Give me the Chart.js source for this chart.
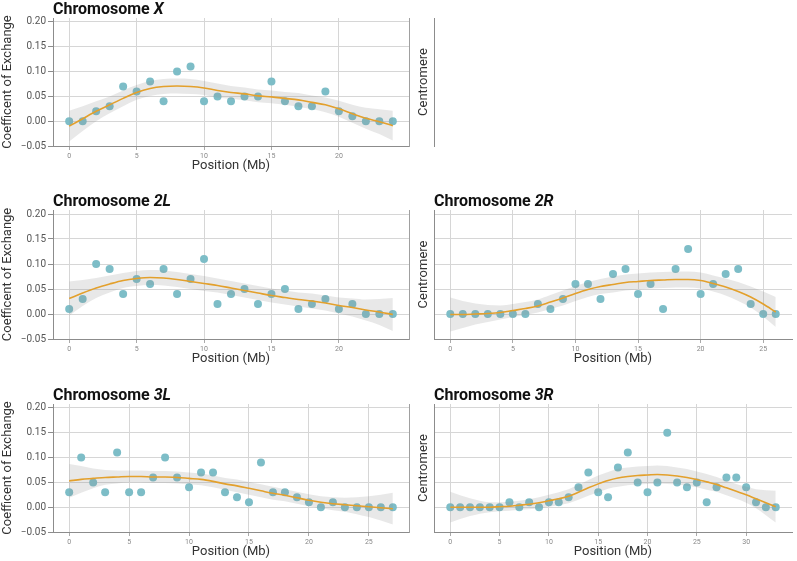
<!DOCTYPE html>
<html>
<head>
<meta charset="utf-8">
<script src="https://cdn.jsdelivr.net/npm/chart.js@4/dist/chart.umd.min.js"></script>
<style>
  body { margin: 0; background: #fff; }
  #wrap { position: relative; width: 797px; height: 561px; overflow: hidden; }
  #wrap canvas { position: absolute; }
</style>
</head>
<body>
<div id="wrap"></div>
<script>
Chart.defaults.font.family = 'Roboto, sans-serif';
Chart.defaults.color = '#333';

// tick labels
const yTicks = [-0.05, 0, 0.05, 0.10, 0.15, 0.20];
const xTicksLeft = [0, 5, 10, 15, 20];
const xTicks3L = [0, 5, 10, 15, 20, 25];
const xTicks2R = [0, 5, 10, 15, 20, 25];
const xTicks3R = [0, 5, 10, 15, 20, 25, 30];

// Chromosome X
const posX = [0,1,2,3,4,5,6,7,8,9,10,11,12,13,14,15,16,17,18,19,20,21,22,23,24];
const valX = [0,0,0.02,0.03,0.07,0.06,0.08,0.04,0.10,0.11,0.04,0.05,0.04,0.05,0.05,0.08,0.04,0.03,0.03,0.06,0.02,0.01,0,0,0];
const fitX = [-0.010,0.005,0.020,0.033,0.046,0.058,0.066,0.070,0.071,0.070,0.067,0.062,0.058,0.055,0.051,0.049,0.046,0.043,0.038,0.033,0.025,0.015,0.006,-0.001,-0.009];
const loX = [-0.041,-0.020,0.000,0.016,0.030,0.043,0.051,0.055,0.056,0.055,0.053,0.048,0.045,0.042,0.038,0.036,0.033,0.029,0.024,0.018,0.009,-0.003,-0.015,-0.026,-0.039];
const hiX = [0.021,0.030,0.040,0.050,0.062,0.073,0.081,0.085,0.086,0.085,0.081,0.076,0.071,0.068,0.064,0.062,0.059,0.057,0.052,0.048,0.041,0.033,0.027,0.024,0.021];

// Chromosome 2L
const pos2L = [0,1,2,3,4,5,6,7,8,9,10,11,12,13,14,15,16,17,18,19,20,21,22,23,24];
const val2L = [0.01,0.03,0.10,0.09,0.04,0.07,0.06,0.09,0.04,0.07,0.11,0.02,0.04,0.05,0.02,0.04,0.05,0.01,0.02,0.03,0.01,0.02,0,0,0];
const fit2L = [0.031,0.042,0.052,0.060,0.067,0.071,0.073,0.072,0.069,0.065,0.061,0.057,0.052,0.047,0.042,0.037,0.033,0.029,0.026,0.022,0.017,0.013,0.008,0.004,-0.001];
const lo2L = [-0.003,0.016,0.032,0.043,0.052,0.056,0.058,0.057,0.054,0.050,0.046,0.043,0.038,0.033,0.028,0.023,0.019,0.015,0.011,0.007,0.001,-0.005,-0.013,-0.022,-0.034];
const hi2L = [0.065,0.068,0.072,0.077,0.082,0.086,0.088,0.087,0.084,0.080,0.076,0.071,0.066,0.061,0.056,0.051,0.047,0.043,0.041,0.037,0.033,0.031,0.029,0.030,0.032];

// Chromosome 2R
const pos2R = [0,1,2,3,4,5,6,7,8,9,10,11,12,13,14,15,16,17,18,19,20,21,22,23,24,25,26];
const val2R = [0,0,0,0,0,0,0,0.02,0.01,0.03,0.06,0.06,0.03,0.08,0.09,0.04,0.06,0.01,0.09,0.13,0.04,0.06,0.08,0.09,0.02,0,0];
const fit2R = [-0.001,-0.001,0.000,0.001,0.003,0.007,0.011,0.016,0.024,0.032,0.041,0.049,0.055,0.059,0.063,0.065,0.067,0.068,0.069,0.069,0.067,0.061,0.054,0.045,0.034,0.020,0.004];
const lo2R = [-0.035,-0.028,-0.021,-0.016,-0.011,-0.006,-0.002,0.003,0.010,0.017,0.026,0.034,0.040,0.043,0.047,0.049,0.051,0.052,0.053,0.053,0.051,0.045,0.037,0.026,0.013,-0.005,-0.026];
const hi2R = [0.033,0.026,0.021,0.018,0.017,0.020,0.024,0.029,0.038,0.047,0.056,0.064,0.070,0.075,0.079,0.081,0.083,0.084,0.085,0.085,0.083,0.077,0.071,0.064,0.055,0.045,0.034];

// Chromosome 3L
const pos3L = [0,1,2,3,4,5,6,7,8,9,10,11,12,13,14,15,16,17,18,19,20,21,22,23,24,25,26,27];
const val3L = [0.03,0.10,0.05,0.03,0.11,0.03,0.03,0.06,0.10,0.06,0.04,0.07,0.07,0.03,0.02,0.01,0.09,0.03,0.03,0.02,0.01,0,0.01,0,0,0,0,0];
const fit3L = [0.053,0.056,0.058,0.060,0.061,0.062,0.062,0.061,0.061,0.060,0.058,0.056,0.052,0.047,0.043,0.038,0.033,0.028,0.024,0.019,0.014,0.010,0.007,0.005,0.003,0.001,-0.001,-0.003];
const lo3L = [0.019,0.029,0.038,0.045,0.048,0.050,0.050,0.049,0.049,0.048,0.046,0.044,0.040,0.035,0.030,0.025,0.020,0.015,0.012,0.007,0.002,-0.002,-0.006,-0.009,-0.014,-0.020,-0.027,-0.035];
const hi3L = [0.087,0.083,0.078,0.075,0.074,0.074,0.074,0.073,0.073,0.072,0.070,0.068,0.064,0.059,0.056,0.051,0.046,0.041,0.036,0.031,0.026,0.022,0.020,0.019,0.020,0.022,0.025,0.029];

// Chromosome 3R
const pos3R = [0,1,2,3,4,5,6,7,8,9,10,11,12,13,14,15,16,17,18,19,20,21,22,23,24,25,26,27,28,29,30,31,32,33];
const val3R = [0,0,0,0,0,0,0.01,0,0.01,0,0.01,0.01,0.02,0.04,0.07,0.03,0.02,0.08,0.11,0.05,0.03,0.05,0.15,0.05,0.04,0.05,0.01,0.04,0.06,0.06,0.04,0.01,0,0];
const fit3R = [0.000,0.000,0.000,0.000,0.000,0.001,0.002,0.004,0.006,0.009,0.013,0.017,0.022,0.030,0.039,0.047,0.054,0.059,0.062,0.064,0.065,0.066,0.065,0.063,0.060,0.056,0.051,0.046,0.039,0.032,0.025,0.017,0.009,0.001];
const lo3R = [-0.031,-0.024,-0.018,-0.013,-0.010,-0.008,-0.007,-0.005,-0.004,-0.002,0.001,0.004,0.008,0.015,0.023,0.030,0.037,0.041,0.044,0.046,0.047,0.048,0.047,0.046,0.043,0.040,0.035,0.031,0.024,0.017,0.009,-0.002,-0.016,-0.031];
const hi3R = [0.031,0.024,0.018,0.013,0.010,0.010,0.011,0.013,0.016,0.020,0.025,0.030,0.036,0.045,0.055,0.064,0.071,0.077,0.080,0.082,0.083,0.084,0.083,0.080,0.077,0.072,0.067,0.061,0.054,0.047,0.041,0.036,0.034,0.033];

const gridColor = '#d6d6d6';
const axisColor = '#8c8c8c';
const pointColor = '#7dbdc7';
const fitColor = '#e3a02c';
const bandColor = 'rgba(140,140,140,0.2)';

// draws "Chromosome <name>" with the name in italics
const chromTitle = {
  id: 'chromTitle',
  afterDraw: (chart, args, opts) => {
    if (!opts.name) return;
    const ctx = chart.ctx;
    const x = chart.chartArea.left;
    const y = chart.chartArea.top - 4.5;
    ctx.save();
    ctx.fillStyle = '#111';
    ctx.textBaseline = 'alphabetic';
    ctx.font = 'bold 16px Roboto';
    ctx.fillText('Chromosome ', x, y);
    const w = ctx.measureText('Chromosome ').width;
    ctx.font = 'italic bold 16px Roboto';
    ctx.fillText(opts.name, x + w, y);
    ctx.restore();
  }
};

const fmtY = (v) => (v < 0 ? '\u2212' + Math.abs(v).toFixed(2) : v.toFixed(2));

const makePanel = (p) => {
  const canvas = document.createElement('canvas');
  canvas.width = p.w;
  canvas.height = p.h;
  canvas.style.left = p.left + 'px';
  canvas.style.top = p.top + 'px';
  canvas.style.width = p.w + 'px';
  canvas.style.height = p.h + 'px';
  document.getElementById('wrap').appendChild(canvas);

  const datasets = [];
  if (p.pos) {
    const xy = (arr) => p.pos.map((x, i) => ({ x: x, y: arr[i] }));
    datasets.push({
      data: xy(p.fit), borderColor: fitColor, borderWidth: 1.6,
      pointRadius: 0, fill: false, cubicInterpolationMode: 'monotone', order: 1
    });
    datasets.push({
      data: xy(p.lo), borderColor: 'transparent', borderWidth: 0,
      pointRadius: 0, fill: false, cubicInterpolationMode: 'monotone', order: 2
    });
    datasets.push({
      data: xy(p.hi), borderColor: 'transparent', borderWidth: 0, backgroundColor: bandColor,
      pointRadius: 0, fill: { target: 1 }, cubicInterpolationMode: 'monotone', order: 2
    });
    datasets.push({
      data: xy(p.val), showLine: false, pointRadius: 4, pointBorderWidth: 0,
      pointBackgroundColor: pointColor, order: 3
    });
  }

  const xMax = p.xMax || 10;
  const scales = {
    x: {
      type: 'linear',
      display: !p.stub,
      min: -0.05 * xMax,
      max: 1.05 * xMax,
      afterBuildTicks: (s) => { s.ticks = (p.xTicks || []).map((v) => ({ value: v })); },
      ticks: { font: { size: 7 }, color: '#888', padding: 2, autoSkip: false, maxRotation: 0,
        callback: (v) => String(v) },
      grid: { color: gridColor, tickLength: 4, tickColor: '#aaa' },
      border: { color: axisColor },
      title: { display: true, text: 'Position (Mb)', font: { size: 13 }, color: '#333', padding: 0 },
      afterFit: (s) => { s.height = 28; }
    },
    y: {
      type: 'linear',
      min: -0.05,
      max: 0.208,
      afterBuildTicks: (s) => { s.ticks = yTicks.map((v) => ({ value: v })); },
      border: { color: axisColor }
    }
  };

  if (p.side == 'left') {
    Object.assign(scales.y, {
      ticks: { font: { size: 10 }, color: '#555', padding: 2, callback: fmtY },
      grid: { color: gridColor, tickLength: 5, tickColor: axisColor },
      title: { display: true, text: 'Coefficent of Exchange', font: { size: 13 }, color: '#333', padding: 0 },
      afterFit: (s) => { s.width = 53; }
    });
    scales.yR = {
      type: 'linear', position: 'right', display: true, min: -0.05, max: 0.208,
      ticks: { display: false },
      grid: { drawOnChartArea: false, drawTicks: false },
      border: { color: '#a0a0a0' },
      afterFit: (s) => { s.width = 0; }
    };
  } else {
    Object.assign(scales.y, {
      ticks: { display: false },
      grid: { color: gridColor, drawTicks: false, drawOnChartArea: !p.stub },
      title: { display: true, text: 'Centromere', font: { size: 13 }, color: '#333', padding: { top: 3, bottom: 0 } },
      afterFit: (s) => { s.width = 21; }
    });
  }

  new Chart(canvas, {
    type: 'line',
    data: { datasets: datasets },
    options: {
      responsive: false,
      animation: false,
      devicePixelRatio: 1,
      layout: { padding: { top: p.padTop, right: p.padRight || 0, bottom: 0, left: 0 } },
      scales: scales,
      plugins: {
        legend: { display: false },
        tooltip: { enabled: false },
        chromTitle: { name: p.name }
      }
    },
    plugins: [chromTitle]
  });
};

const panels = [
  { name: 'X', pos: posX, val: valX, fit: fitX, lo: loX, hi: hiX, xMax: 24, xTicks: xTicksLeft,
    side: 'left', left: 0, top: 0, w: 413, h: 174, padTop: 18 },
  { stub: true, side: 'right', left: 413, top: 0, w: 40, h: 174, padTop: 18 },
  { name: '2L', pos: pos2L, val: val2L, fit: fit2L, lo: lo2L, hi: hi2L, xMax: 24, xTicks: xTicksLeft,
    side: 'left', left: 0, top: 180, w: 413, h: 187, padTop: 30 },
  { name: '2R', pos: pos2R, val: val2R, fit: fit2R, lo: lo2R, hi: hi2R, xMax: 26, xTicks: xTicks2R,
    side: 'right', left: 413, top: 180, w: 384, h: 187, padTop: 30, padRight: 5 },
  { name: '3L', pos: pos3L, val: val3L, fit: fit3L, lo: lo3L, hi: hi3L, xMax: 27, xTicks: xTicks3L,
    side: 'left', left: 0, top: 374, w: 413, h: 186, padTop: 30 },
  { name: '3R', pos: pos3R, val: val3R, fit: fit3R, lo: lo3R, hi: hi3R, xMax: 33, xTicks: xTicks3R,
    side: 'right', left: 413, top: 374, w: 384, h: 186, padTop: 30, padRight: 5 }
];

for (const p of panels) {
  makePanel(p);
}
</script>
</body>
</html>
